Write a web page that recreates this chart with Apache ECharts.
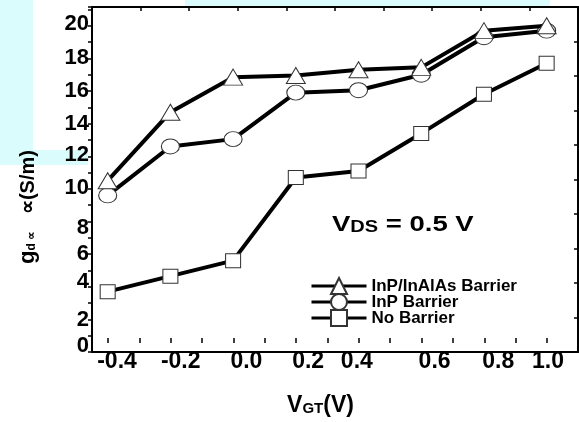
<!DOCTYPE html>
<html>
<head>
<meta charset="utf-8">
<script src="https://cdn.jsdelivr.net/npm/echarts@6/dist/echarts.min.js"></script>
<style>
html, body { margin: 0; padding: 0; background: #ffffff; }
#chart { width: 579px; height: 422px; }
</style>
</head>
<body>
<div id="chart"></div>
<script>
// gate voltage points
const vgt = [-0.4, -0.2, 0.0, 0.2, 0.4, 0.6, 0.8, 1.0];
// transconductance per structure
const inpInalasBarrier = [10.5, 14.7, 16.85, 16.95, 17.3, 17.45, 19.7, 20.0];
const inpBarrier = [9.6, 12.6, 13.05, 15.9, 16.05, 17.0, 19.3, 19.7];
const noBarrier = [3.7, 4.65, 5.6, 10.7, 11.1, 13.4, 15.8, 17.7];
const seriesNames = ["InP/InAlAs Barrier", "InP Barrier", "No Barrier"];
const xTickLabels = ["-0.4", "-0.2", "0.0", "0.2", "0.4", "0.6", "0.8", "1.0"];
const yTickLabels = ["0", "2", "4", "6", "8", "10", "12", "14", "16", "18", "20"];

const FONT = "'Liberation Sans', Arial, sans-serif";
// the labels in the figure sit a little off their ticks
const xLabelShift = [9, 10, 13, 12, -2, 13, 14, 1];
const yLabelShift = [-6, 1, -5, 0, 6, -1, -1, 0, 0, 0, -2];

function pair(xs, ys) {
	let out = [];
	for (let i = 0; i < xs.length; i++) out.push([xs[i], ys[i]]);
	return out;
}

let xRich = {};
xLabelShift.forEach((d, i) => {
	xRich["x" + i] = {
		fontFamily: FONT, fontWeight: "bold", fontSize: 23, color: "#000",
		padding: d >= 0 ? [0, 0, 0, 2 * d] : [0, -2 * d, 0, 0]
	};
});
let yRich = {};
yLabelShift.forEach((d, i) => {
	yRich["y" + i] = {
		fontFamily: FONT, fontWeight: "bold", fontSize: 22, color: "#000",
		padding: d >= 0 ? [2 * d, 0, 0, 0] : [0, 0, -2 * d, 0]
	};
});

const black = "#000";
let markerStyle = { color: "#fff", borderColor: "#333", borderWidth: 1 };
let frameLine = { show: true, onZero: false, lineStyle: { color: black, width: 2 } };

let chart = echarts.init(document.getElementById("chart"));
let option = {
	backgroundColor: "#fff",
	animation: false,
	grid: [
		{ left: 92, right: 1, top: 7, bottom: 70 },
		{ left: 108, right: 32, top: 7, bottom: 70 }
	],
	xAxis: [
		{
			gridIndex: 0, type: "value", min: -0.45, max: 1.1,
			axisLine: frameLine,
			axisTick: { show: false }, axisLabel: { show: false }, splitLine: { show: false }
		},
		{
			gridIndex: 0, type: "value", position: "top", min: 0, max: 10, interval: 1,
			axisLine: frameLine,
			axisTick: { show: true, inside: true, length: 4, lineStyle: { color: black, width: 1.5 } },
			axisLabel: { show: false }, splitLine: { show: false }
		},
		{
			gridIndex: 1, type: "value", min: -0.4, max: 1.0, interval: 0.1,
			axisLine: { show: false, onZero: false },
			axisTick: { show: true, inside: true, length: 5, lineStyle: { color: black, width: 1.5 } },
			splitLine: { show: false },
			axisLabel: {
				margin: 7,
				showMinLabel: true,
				showMaxLabel: true,
				formatter: function(value) {
					let k = Math.round((value + 0.4) / 0.1);
					if (k % 2 !== 0) return "";
					return "{x" + k / 2 + "|" + xTickLabels[k / 2] + "}";
				},
				rich: xRich
			},
			name: "{v|V}{s|GT}{v|(V)}",
			nameLocation: "middle",
			nameGap: 51,
			nameTextStyle: {
				padding: [0, 14, 0, 0],
				rich: {
					v: { fontFamily: FONT, fontWeight: "bold", fontSize: 23, color: black },
					s: { fontFamily: FONT, fontWeight: "bold", fontSize: 15, color: black, padding: [6, 0, 0, 0] }
				}
			}
		}
	],
	yAxis: [
		{
			gridIndex: 0, type: "value", min: 0, max: 21.15, interval: 1,
			axisLine: frameLine,
			axisTick: { show: true, inside: false, length: 4, lineStyle: { color: black, width: 1.5 } },
			splitLine: { show: false },
			axisLabel: {
				margin: 3,
				formatter: function(value) {
					if (Math.abs(value - Math.round(value)) > 1e-6) return "";
					let v = Math.round(value);
					if (v % 2 !== 0 || v > 20) return "";
					return "{y" + v / 2 + "|" + yTickLabels[v / 2] + "}";
				},
				rich: yRich
			}
		},
		{
			gridIndex: 0, type: "value", position: "right", min: 0, max: 10, interval: 1,
			axisLine: frameLine,
			axisTick: { show: true, inside: true, length: 4, lineStyle: { color: black, width: 1.5 } },
			axisLabel: { show: false }, splitLine: { show: false }
		},
		{ gridIndex: 1, type: "value", show: false, min: 0, max: 21.15 }
	],
	legend: {
		orient: "vertical",
		left: 305,
		top: 272,
		itemWidth: 55,
		itemHeight: 20,
		itemGap: -2,
		data: seriesNames,
		lineStyle: { width: 3 },
		textStyle: { fontFamily: FONT, fontWeight: "bold", fontSize: 17, color: black, padding: [0, 0, 0, 0] }
	},
	graphic: [
		{ type: "rect", silent: true, z: -10, shape: { x: 0, y: 0, width: 33, height: 165 }, style: { fill: "#dbfcfc" } },
		{ type: "rect", silent: true, z: -10, shape: { x: 0, y: 150, width: 88, height: 15 }, style: { fill: "#dbfcfc" } },
		{ type: "rect", silent: true, z: -10, shape: { x: 185, y: 0, width: 365, height: 6 }, style: { fill: "#dbfcfc" } },
		{
			type: "text", x: 28, y: 207, rotation: Math.PI / 2,
			style: {
				text: "{g|g}{s|d ∝}{n|   ∝(S/m)}",
				align: "center", verticalAlign: "middle",
				rich: {
					g: { fontFamily: FONT, fontWeight: "bold", fontSize: 22, fill: black },
					s: { fontFamily: FONT, fontWeight: "bold", fontSize: 12, fill: black, padding: [8, 0, 0, 0] },
					n: { fontFamily: FONT, fontWeight: "bold", fontSize: 20, fill: black }
				}
			}
		},
		{
			type: "text", x: 332, y: 214, scaleX: 1.25,
			style: {
				text: "{v|V}{s|DS}{v| = 0.5 V}",
				align: "left", verticalAlign: "top",
				rich: {
					v: { fontFamily: FONT, fontWeight: "bold", fontSize: 22, fill: black },
					s: { fontFamily: FONT, fontWeight: "bold", fontSize: 16, fill: black, padding: [5, 0, 0, 0] }
				}
			}
		}
	],
	series: [
		{
			name: seriesNames[2], type: "line", xAxisIndex: 0, yAxisIndex: 0, z: 3,
			data: pair(vgt, noBarrier),
			symbol: "rect", symbolSize: [15, 14],
			lineStyle: { color: black, width: 4 },
			itemStyle: markerStyle
		},
		{
			name: seriesNames[1], type: "line", xAxisIndex: 0, yAxisIndex: 0, z: 4,
			data: pair(vgt, inpBarrier),
			symbol: "circle", symbolSize: [18, 15],
			lineStyle: { color: black, width: 4 },
			itemStyle: markerStyle
		},
		{
			name: seriesNames[0], type: "line", xAxisIndex: 0, yAxisIndex: 0, z: 5,
			data: pair(vgt, inpInalasBarrier),
			symbol: "triangle", symbolSize: [19, 16],
			lineStyle: { color: black, width: 4 },
			itemStyle: markerStyle
		}
	]
};
chart.setOption(option);
</script>
</body>
</html>
